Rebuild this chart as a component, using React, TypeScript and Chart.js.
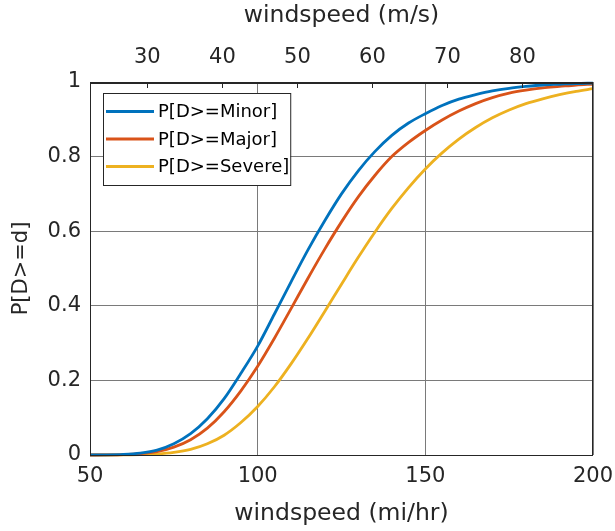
import React, { useEffect, useRef } from 'react';
import { Chart, registerables } from 'chart.js';

Chart.register(...registerables);

// ---- data ----
const windspeedMph = [
  50, 55, 60, 65, 70, 75, 80, 85, 90, 95, 100, 105, 110, 115, 120, 125, 130,
  135, 140, 145, 150, 155, 160, 165, 170, 175, 180, 185, 190, 195, 200,
];
const pMinor = [
  0.0001, 0.0003, 0.0015, 0.005, 0.013, 0.03, 0.057, 0.097, 0.151, 0.219, 0.292,
  0.378, 0.465, 0.55, 0.628, 0.7, 0.762, 0.814, 0.857, 0.89, 0.915, 0.937, 0.954,
  0.966, 0.976, 0.983, 0.988, 0.992, 0.994, 0.996, 0.997,
];
const pMajor = [
  0, 0.0002, 0.001, 0.0035, 0.009, 0.021, 0.041, 0.072, 0.116, 0.172, 0.238,
  0.313, 0.393, 0.474, 0.552, 0.625, 0.692, 0.75, 0.8, 0.838, 0.87, 0.898, 0.922,
  0.942, 0.958, 0.97, 0.978, 0.984, 0.988, 0.992, 0.994,
];
const pSevere = [
  0, 0, 0.0002, 0.0008, 0.0026, 0.0068, 0.015, 0.03, 0.053, 0.087, 0.13, 0.183,
  0.245, 0.313, 0.385, 0.458, 0.53, 0.598, 0.661, 0.717, 0.767, 0.81, 0.847,
  0.878, 0.904, 0.925, 0.942, 0.955, 0.966, 0.975, 0.982,
];
const seriesLabels = ['P[D>=Minor]', 'P[D>=Major]', 'P[D>=Severe]'];
const seriesValues = [pMinor, pMajor, pSevere];
const seriesColors = ['#0072BD', '#D95319', '#EDB120'];

const bottomTicks = [50, 100, 150, 200];
const topTicksMs = [30, 40, 50, 60, 70, 80];
const yTicks = [0, 0.2, 0.4, 0.6, 0.8, 1];
const MPH_PER_MS = 2.23694;
const X_MIN = 50;
const X_MAX = 200;

const FONT = '"DejaVu Sans", sans-serif';
const TEXT = '#262626';
const GRID = '#7a7a7a';

export default function App() {
  const ref = useRef<HTMLCanvasElement>(null);

  useEffect(() => {
    if (!ref.current) return;

    const framePlugin = {
      id: 'frameAndLegend',
      afterDatasetsDraw(chart: any) {
        const ctx = chart.ctx as CanvasRenderingContext2D;
        const a = chart.chartArea;
        ctx.save();
        // axes box
        ctx.strokeStyle = TEXT;
        ctx.lineWidth = 1;
        ctx.strokeRect(a.left + 0.5, a.top + 0.5, a.right - a.left - 1, a.bottom - a.top);
        ctx.lineWidth = 2;
        ctx.beginPath();
        ctx.moveTo(a.left, a.top + 1);
        ctx.lineTo(a.right, a.top + 1);
        ctx.stroke();
        // inward ticks of the top (m/s) axis
        const x2 = chart.scales.x2;
        ctx.lineWidth = 1;
        ctx.beginPath();
        for (const t of x2.ticks) {
          const px = Math.round(x2.getPixelForValue(t.value)) + 0.5;
          ctx.moveTo(px, a.top);
          ctx.lineTo(px, a.top + 6);
        }
        ctx.stroke();

        // legend box
        ctx.font = `18px ${FONT}`;
        const labels = chart.data.datasets.map((d: any) => d.label as string);
        const maxW = Math.max(...labels.map((l: string) => ctx.measureText(l).width));
        const bx = a.left + 13;
        const by = a.top + 11;
        const bw = 56 + maxW;
        const bh = 92;
        ctx.fillStyle = '#ffffff';
        ctx.fillRect(bx, by, bw, bh);
        ctx.strokeStyle = TEXT;
        ctx.lineWidth = 1;
        ctx.strokeRect(bx + 0.5, by + 0.5, bw, bh);
        chart.data.datasets.forEach((d: any, i: number) => {
          const cy = by + 18.5 + i * 27.5;
          ctx.strokeStyle = d.borderColor;
          ctx.lineWidth = 2.8;
          ctx.beginPath();
          ctx.moveTo(bx + 3, cy);
          ctx.lineTo(bx + 51, cy);
          ctx.stroke();
          ctx.fillStyle = '#000000';
          ctx.textBaseline = 'middle';
          ctx.textAlign = 'left';
          ctx.fillText(d.label, bx + 55, cy + 1);
        });
        ctx.restore();
      },
    };

    const fmt = (v: any) => String(Number(v));

    const chart = new Chart(ref.current, {
      type: 'line',
      data: {
        datasets: seriesValues.map((vals, i) => ({
          label: seriesLabels[i],
          data: windspeedMph.map((x, j) => ({ x, y: vals[j] })),
          borderColor: seriesColors[i],
          backgroundColor: seriesColors[i],
          borderWidth: 2.8,
          pointRadius: 0,
          fill: false,
          cubicInterpolationMode: 'monotone',
          clip: false,
          xAxisID: 'x',
          yAxisID: 'y',
        })),
      },
      options: {
        responsive: false,
        animation: false,
        layout: { padding: 0 },
        plugins: { legend: { display: false }, tooltip: { enabled: false } },
        scales: {
          x: {
            type: 'linear',
            position: 'bottom',
            min: X_MIN,
            max: X_MAX,
            afterBuildTicks: (s: any) => {
              s.ticks = bottomTicks.map((v) => ({ value: v }));
            },
            ticks: {
              font: { family: FONT, size: 21 },
              color: TEXT,
              padding: 9,
              maxRotation: 0,
              autoSkip: false,
              callback: fmt,
            },
            grid: { color: GRID, drawTicks: false, lineWidth: 1 },
            border: { display: false },
            title: {
              display: true,
              text: 'windspeed (mi/hr)',
              font: { family: FONT, size: 23.5 },
              color: TEXT,
              padding: { top: 0, bottom: 3 },
            },
            afterFit: (s: any) => {
              s.height = 76;
              s.paddingLeft = 0;
              s.paddingRight = 0;
            },
          },
          x2: {
            type: 'linear',
            position: 'top',
            display: true,
            min: X_MIN / MPH_PER_MS,
            max: X_MAX / MPH_PER_MS,
            afterBuildTicks: (s: any) => {
              s.ticks = topTicksMs.map((v) => ({ value: v }));
            },
            ticks: {
              font: { family: FONT, size: 21 },
              color: TEXT,
              padding: 12,
              maxRotation: 0,
              autoSkip: false,
              callback: fmt,
            },
            grid: { drawOnChartArea: false, drawTicks: false },
            border: { display: false },
            title: {
              display: true,
              text: 'windspeed (m/s)',
              font: { family: FONT, size: 23.5 },
              color: TEXT,
              padding: { top: 2, bottom: 0 },
            },
            afterFit: (s: any) => {
              s.height = 82;
              s.paddingLeft = 0;
              s.paddingRight = 0;
            },
          },
          y: {
            type: 'linear',
            position: 'left',
            min: 0,
            max: 1,
            afterBuildTicks: (s: any) => {
              s.ticks = yTicks.map((v) => ({ value: v }));
            },
            ticks: {
              font: { family: FONT, size: 21 },
              color: TEXT,
              padding: 9,
              callback: fmt,
            },
            grid: { color: GRID, drawTicks: false, lineWidth: 1 },
            border: { display: false },
            title: {
              display: true,
              text: 'P[D>=d]',
              font: { family: FONT, size: 21 },
              color: TEXT,
              padding: { top: 9, bottom: 0 },
            },
            afterFit: (s: any) => {
              s.width = 90;
              s.paddingTop = 0;
              s.paddingBottom = 0;
            },
          },
          y2: {
            type: 'linear',
            position: 'right',
            display: true,
            min: 0,
            max: 1,
            ticks: { display: false },
            grid: { display: false, drawOnChartArea: false },
            border: { display: false },
            afterFit: (s: any) => {
              s.width = 22;
              s.paddingTop = 0;
              s.paddingBottom = 0;
            },
          },
        },
      } as any,
      plugins: [framePlugin],
    });

    return () => chart.destroy();
  }, []);

  return (
    <div style={{ position: 'absolute', left: 0, top: 0, width: 615, height: 531, background: '#fff' }}>
      <canvas ref={ref} width={615} height={531} style={{ width: 615, height: 531, display: 'block' }} />
    </div>
  );
}
